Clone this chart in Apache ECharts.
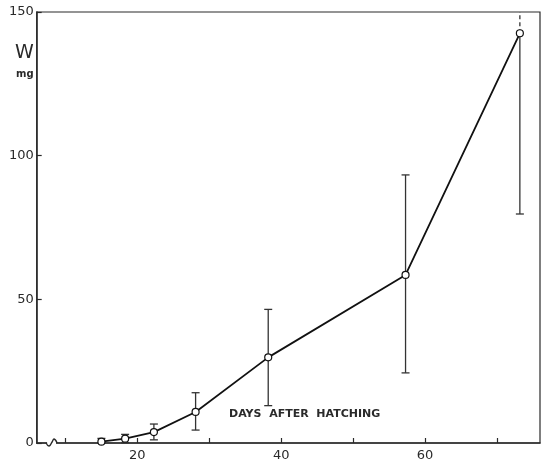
<!DOCTYPE html>
<html>
<head>
<meta charset="utf-8">
<script src="https://cdn.jsdelivr.net/npm/echarts@6/dist/echarts.min.js"></script>
<style>html,body{margin:0;padding:0;background:#fff;}#c{width:550px;height:467px;}</style>
</head>
<body>
<div id="c"></div>
<script>
// Data
var days = [15, 18.3, 22.3, 28.1, 38.2, 57.3, 73.2];
var weight = [0.45, 1.5, 3.8, 10.8, 29.8, 58.5, 142.6];
var errLow = [0, 0.1, 1.1, 4.5, 13.0, 24.4, 79.7];
var errHigh = [1.6, 3.0, 6.6, 17.5, 46.5, 93.3, null]; // null: runs off the top of the scale
var xTickValues = [10, 20, 30, 40, 50, 60, 70];
var xLabelValues = [20, 40, 60];

var INK = '#2a2a2a';
var FONT = 'DejaVu Sans';
var chart = echarts.init(document.getElementById('c'));

var lineData = days.map(function (d, i) { return [d, weight[i]]; });
var errData = days.map(function (d, i) { return [d, errLow[i], errHigh[i] === null ? 150 : errHigh[i], errHigh[i] === null ? 1 : 0, weight[i]]; });

var option = {
  animation: false,
  backgroundColor: '#fff',
  grid: { left: 36.7, right: 10, top: 12, bottom: 24, show: true, borderColor: INK, borderWidth: 1.2, backgroundColor: 'transparent' },
  xAxis: {
    type: 'value', min: 6, max: 76,
    axisLine: { show: true, lineStyle: { color: INK, width: 1.5 } },
    axisTick: { show: true, inside: true, length: 5, customValues: xTickValues, lineStyle: { color: INK, width: 1.2 } },
    axisLabel: { show: true, customValues: xLabelValues, color: INK, fontFamily: FONT, fontSize: 13, margin: 6 },
    splitLine: { show: false }
  },
  yAxis: {
    type: 'value', min: 0, max: 150, interval: 50,
    axisLine: { show: true, lineStyle: { color: INK, width: 1.5 } },
    axisTick: { show: true, inside: true, length: 5, lineStyle: { color: INK, width: 1.2 } },
    axisLabel: { show: true, color: INK, fontFamily: FONT, fontSize: 13, margin: 3 },
    splitLine: { show: false }
  },
  series: [
    {
      type: 'custom',
      data: errData,
      z: 2,
      renderItem: function (params, api) {
        var x = api.value(0);
        var lo = api.coord([x, api.value(1)]);
        var hi = api.coord([x, api.value(2)]);
        var mid = api.coord([x, api.value(4)]);
        var off = api.value(3) === 1;
        var cap = 4;
        var st = { stroke: '#333', lineWidth: 1.3 };
        var children = [];
        if (off) {
          children.push({ type: 'line', shape: { x1: lo[0], y1: lo[1], x2: mid[0], y2: mid[1] }, style: st });
          children.push({ type: 'line', shape: { x1: mid[0], y1: mid[1], x2: hi[0], y2: hi[1] }, style: { stroke: '#333', lineWidth: 1.3, lineDash: [4, 3] } });
          children.push({ type: 'line', shape: { x1: lo[0] - cap, y1: lo[1], x2: lo[0] + cap, y2: lo[1] }, style: st });
        } else {
          children.push({ type: 'line', shape: { x1: lo[0], y1: lo[1], x2: hi[0], y2: hi[1] }, style: st });
          children.push({ type: 'line', shape: { x1: lo[0] - cap, y1: lo[1], x2: lo[0] + cap, y2: lo[1] }, style: st });
          children.push({ type: 'line', shape: { x1: hi[0] - cap, y1: hi[1], x2: hi[0] + cap, y2: hi[1] }, style: st });
        }
        return { type: 'group', children: children };
      }
    },
    {
      type: 'line',
      data: lineData,
      z: 3,
      symbol: 'circle',
      symbolSize: 7,
      showSymbol: true,
      lineStyle: { color: '#111', width: 1.8 },
      itemStyle: { color: '#fff', borderColor: '#111', borderWidth: 1.2 }
    }
  ]
};
chart.setOption(option);

// axis-break wiggle on the x axis, placed through the library's scale
var p = chart.convertToPixel({ gridIndex: 0 }, [8, 0]);
chart.setOption({
  graphic: [
    { type: 'rect', shape: { x: p[0] - 4, y: p[1] - 2, width: 9, height: 4 }, style: { fill: '#fff' }, z: 10 },
    { type: 'polyline', shape: { points: [[p[0] - 5, p[1]], [p[0] - 2, p[1] + 3], [p[0] + 1, p[1] - 1], [p[0] + 3, p[1] - 4], [p[0] + 6, p[1]]], smooth: 0.5 }, style: { stroke: INK, lineWidth: 1.4, fill: null }, z: 11 },
    { type: 'text', left: 15, top: 44, style: { text: 'W', fontFamily: FONT, fontSize: 19, fill: INK } },
    { type: 'text', left: 16, top: 69, style: { text: 'mg', fontFamily: FONT, fontSize: 10, fontWeight: 'bold', fill: INK } },
    { type: 'text', left: 229, top: 409, style: { text: 'DAYS  AFTER  HATCHING', fontFamily: FONT, fontSize: 11, fontWeight: 'bold', fill: INK } }
  ]
});
</script>
</body>
</html>
